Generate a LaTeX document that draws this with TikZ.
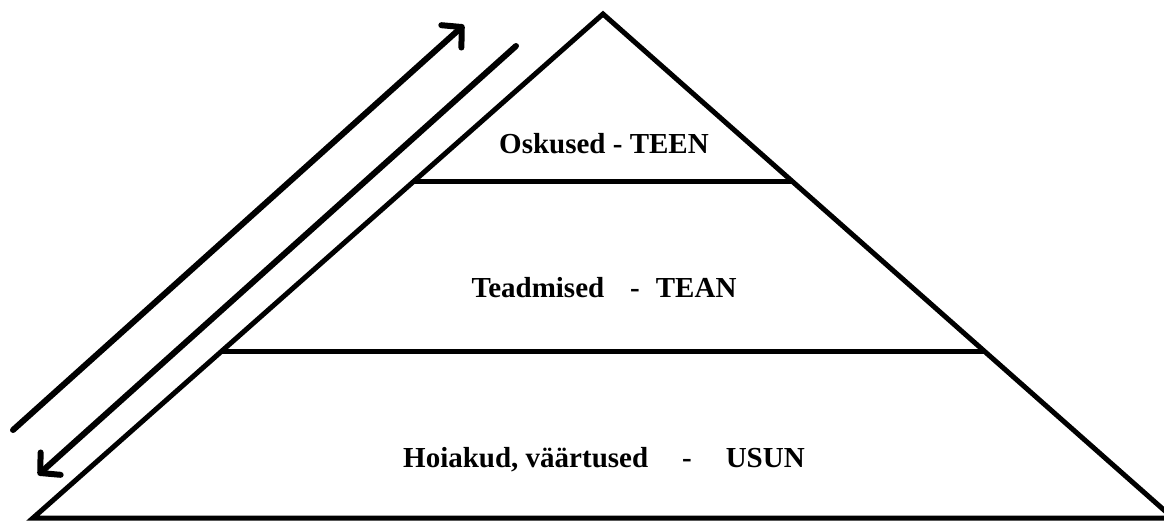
\documentclass[tikz,border=0pt]{standalone}
\usepackage{fontspec}
\setmainfont{Liberation Serif}
\usepackage{tikz}
\usetikzlibrary{arrows.meta, positioning, calc}

\begin{document}
\begin{tikzpicture}[x=1pt, y=-1pt,
    edge/.style={line width=5pt},
    flow/.style={line width=6pt, line cap=round, -{Straight Barb[length=14pt, width=30pt, line width=6pt, round]}},
    layer/.style={font=\fontsize{29}{31}\selectfont\bfseries, anchor=base, inner sep=0pt}]
    \useasboundingbox (0,0) rectangle (1164,520);

    \coordinate (top) at (603,14);
    \coordinate (bl) at (33,518);
    \coordinate (br) at (1173,518);
    \coordinate (l1) at ($(top)!0.3333!(bl)$);
    \coordinate (r1) at ($(top)!0.3333!(br)$);
    \coordinate (l2) at ($(top)!0.6687!(bl)$);
    \coordinate (r2) at ($(top)!0.6687!(br)$);

    \draw[edge] (bl) -- (top) -- (br) -- cycle;
    \draw[edge] (l1) -- (r1);
    \draw[edge] (l2) -- (r2);

    \coordinate (up0) at (13,430);
    \coordinate (up1) at (464,25);
    \coordinate (dn0) at (516,46);
    \coordinate (dn1) at (38,475);
    \draw[flow] (up0) -- (up1);
    \draw[flow] (dn0) -- (dn1);

    \node[layer] (skills) at (604,153) {Oskused - TEEN};
    \node[layer] (know) at (604,297) {Teadmised\hspace{26pt}-\hspace{16pt}TEAN};
    \node[layer] (values) at (604,467) {Hoiakud, väärtused\hspace{34pt}-\hspace{34pt}USUN};
\end{tikzpicture}
\end{document}
